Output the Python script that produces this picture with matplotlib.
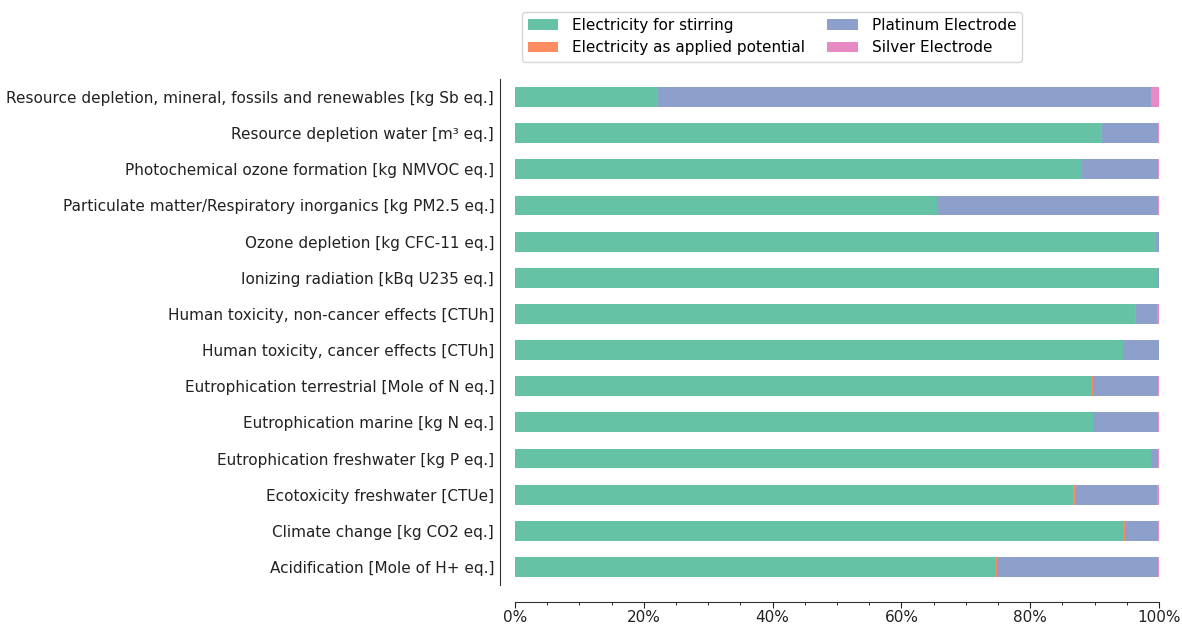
import matplotlib.pyplot as plt
import numpy as np
from matplotlib.ticker import MultipleLocator, PercentFormatter

# impact categories, bottom to top as drawn
categories = [
    "Acidification [Mole of H+ eq.]",
    "Climate change [kg CO2 eq.]",
    "Ecotoxicity freshwater [CTUe]",
    "Eutrophication freshwater [kg P eq.]",
    "Eutrophication marine [kg N eq.]",
    "Eutrophication terrestrial [Mole of N eq.]",
    "Human toxicity, cancer effects [CTUh]",
    "Human toxicity, non-cancer effects [CTUh]",
    "Ionizing radiation [kBq U235 eq.]",
    "Ozone depletion [kg CFC-11 eq.]",
    "Particulate matter/Respiratory inorganics [kg PM2.5 eq.]",
    "Photochemical ozone formation [kg NMVOC eq.]",
    "Resource depletion water [m³ eq.]",
    "Resource depletion, mineral, fossils and renewables [kg Sb eq.]",
]

# shares in percent
stirring  = [74.7, 94.6, 86.7, 98.7, 89.7, 89.6, 94.4, 96.3, 99.7, 99.5, 65.5, 88.0, 91.0, 22.0]
potential = [0.1, 0.1, 0.2, 0.1, 0.1, 0.1, 0.05, 0.1, 0.02, 0.05, 0.1, 0.1, 0.1, 0.2]
platinum  = [25.1, 5.2, 12.8, 1.1, 10.1, 10.2, 5.5, 3.3, 0.25, 0.4, 34.3, 11.8, 8.8, 76.6]
silver    = [0.1, 0.1, 0.3, 0.1, 0.1, 0.1, 0.05, 0.3, 0.03, 0.05, 0.1, 0.1, 0.1, 1.2]

series = [
    ("Electricity for stirring", stirring, "#66c2a5"),
    ("Electricity as applied potential", potential, "#fc8d62"),
    ("Platinum Electrode", platinum, "#8da0cb"),
    ("Silver Electrode", silver, "#e78ac3"),
]

fig = plt.figure(figsize=(11.82, 6.25), dpi=100)
ax = fig.add_axes([515 / 1182, 1 - 585 / 625, (1159 - 515) / 1182, (585 - 79) / 625])

y = np.arange(len(categories))
left = np.zeros(len(categories))
for name, vals, color in series:
    vals = np.array(vals)
    ax.barh(y, vals, left=left, height=0.55, color=color, label=name)
    left += vals

ax.set_xlim(0, 100)
ax.set_ylim(-0.5, len(categories) - 0.5)
ax.set_yticks(y)
ax.set_yticklabels(categories)
ax.tick_params(axis="y", length=0, pad=4, labelsize=11, labelcolor="#222222")
ax.xaxis.set_major_locator(MultipleLocator(20))
ax.xaxis.set_minor_locator(MultipleLocator(5))
ax.xaxis.set_major_formatter(PercentFormatter(decimals=0))
ax.tick_params(axis="x", labelsize=11, length=4, pad=2, colors="#222222")
ax.tick_params(axis="x", which="minor", length=2)

ax.spines["top"].set_visible(False)
ax.spines["right"].set_visible(False)
ax.spines["left"].set_position(("outward", 11))
ax.spines["bottom"].set_position(("outward", 12))
ax.spines["bottom"].set_bounds(0, 100)
ax.spines["left"].set_color("#333333")
ax.spines["bottom"].set_color("#333333")

ax.legend(loc="upper left", bbox_to_anchor=(514 / 1182, 1 - 4 / 625),
          bbox_transform=fig.transFigure, ncol=2, fontsize=11,
          handlelength=2.0, handletextpad=0.9, columnspacing=1.45)

plt.savefig("out.png", dpi=100)
